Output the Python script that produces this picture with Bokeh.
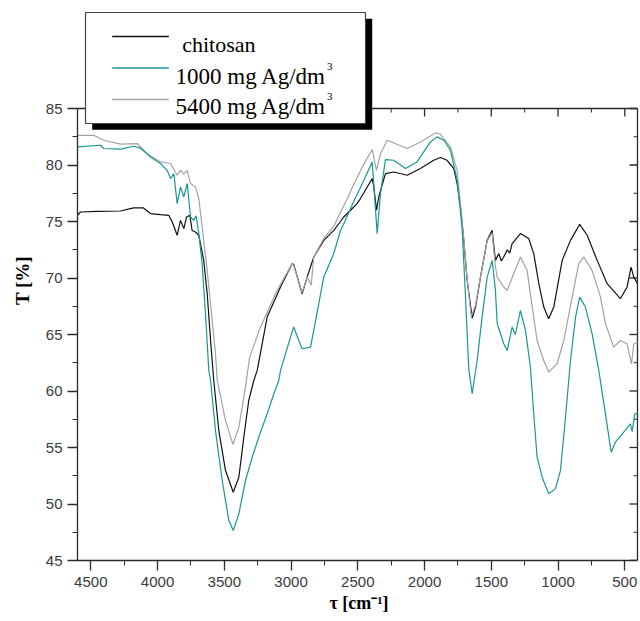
from bokeh.plotting import figure
from bokeh.models import (Range1d, SingleIntervalTicker, BoxAnnotation, Label, PolyAnnotation)
from bokeh.embed import file_html
from bokeh.resources import INLINE

# ---------------- data ----------------
chitosan_wn = [4600, 4577, 4450, 4278, 4180, 4105, 4053, 3978, 3916, 3890, 3853, 3828, 3803,
               3783, 3758, 3741, 3716, 3691, 3654, 3628, 3603, 3579, 3541, 3491, 3433, 3391,
               3354, 3317, 3279, 3254, 3179, 3079, 2992, 2980, 2917, 2879, 2830, 2755, 2680,
               2630, 2605, 2530, 2505, 2480, 2392, 2380, 2360, 2343, 2293, 2231, 2130, 2031,
               1931, 1881, 1831, 1781, 1756, 1731, 1706, 1681, 1643, 1618, 1581, 1531, 1494,
               1469, 1444, 1425, 1407, 1380, 1362, 1344, 1282, 1220, 1182, 1144, 1107, 1070,
               1032, 969, 907, 838, 782, 707, 632, 533, 483, 453, 433, 405]
chitosan_t = [75.55, 75.84, 75.9, 75.93, 76.2, 76.2, 75.7, 75.6, 75.55, 74.96, 73.78, 75.1, 74.37,
              75.4, 75.55, 74.2, 74.07, 73.78, 71.56, 68.6, 64.5, 60.93, 56.5, 52.96, 51.04, 52.37,
              55.9, 59.16, 60.93, 61.8, 66.54, 69.2, 71.27, 71.2, 68.6, 70.1, 71.86, 73.33, 74.22,
              75.0, 75.4, 76.28, 76.6, 77.03, 78.8, 78.06, 76.0, 77.17, 79.24, 79.38, 79.09, 79.69,
              80.42, 80.66, 80.42, 79.69, 78.36, 76.28, 73.33, 69.8, 66.45, 67.43, 70.08, 73.33, 74.22,
              71.56, 72.16, 71.5, 71.86, 72.5, 72.2, 73.04, 73.93, 73.49, 72.16, 69.5, 67.43, 66.4,
              67.43, 71.56, 73.33, 74.75, 73.78, 71.56, 69.5, 68.17, 69.2, 70.97, 70.08, 69.5]

ag1000_wn = [4600, 4427, 4403, 4278, 4178, 4128, 4053, 3978, 3928, 3903, 3878, 3853, 3828, 3803,
             3778, 3753, 3729, 3711, 3691, 3666, 3641, 3616, 3603, 3566, 3516, 3466, 3433, 3391,
             3341, 3291, 3242, 3179, 3129, 3092, 3079, 3004, 2980, 2942, 2917, 2854, 2830, 2755,
             2680, 2630, 2605, 2530, 2480, 2392, 2355, 2330, 2293, 2231, 2143, 2056, 1956, 1906,
             1856, 1806, 1756, 1719, 1694, 1669, 1643, 1606, 1569, 1531, 1494, 1469, 1456, 1431,
             1407, 1381, 1344, 1320, 1282, 1244, 1207, 1182, 1157, 1119, 1070, 1020, 982, 944,
             907, 869, 838, 795, 745, 695, 645, 602, 570, 508, 458, 445, 425, 405]
ag1000_t = [81.6, 81.75, 81.46, 81.4, 81.66, 81.5, 80.71, 80.13, 79.53, 78.8, 79.24, 76.59, 78.06, 77.17,
            78.36, 75.4, 75.1, 75.5, 73.93, 71.27, 66.84, 61.8, 60.93, 56.5, 52.1, 48.53, 47.65, 49.13,
            52.1, 54.14, 55.91, 57.98, 59.76, 60.93, 61.8, 64.77, 65.66, 64.47, 63.74, 63.88, 65.36, 70.08,
            72.16, 74.2, 74.81, 76.8, 78.0, 80.27, 73.93, 77.47, 80.48, 80.42, 79.69, 80.27, 82.04, 82.49,
            82.19, 81.31, 78.65, 74.51, 68.5, 62.0, 59.76, 62.7, 66.54, 70.08, 71.56, 68.9, 65.96, 65.07,
            64.18, 63.59, 65.66, 65.0, 67.13, 65.36, 62.11, 57.98, 54.14, 52.37, 50.9, 51.34, 52.96, 57.68,
            62.7, 66.54, 68.31, 67.43, 65.07, 61.82, 57.98, 54.58, 55.47, 56.36, 57.1, 56.4, 57.98, 58.0]

ag5400_wn = [4600, 4478, 4403, 4278, 4153, 4078, 3978, 3903, 3853, 3828, 3803, 3778, 3753, 3716,
             3691, 3666, 3628, 3591, 3566, 3553, 3491, 3436, 3391, 3349, 3310, 3229, 3104, 2992,
             2980, 2917, 2879, 2849, 2830, 2755, 2680, 2630, 2580, 2530, 2480, 2440, 2392, 2360,
             2330, 2280, 2130, 2031, 1918, 1881, 1806, 1756, 1731, 1706, 1681, 1650, 1618, 1581,
             1531, 1494, 1469, 1456, 1407, 1381, 1332, 1282, 1232, 1182, 1157, 1107, 1070, 1007,
             957, 894, 845, 807, 745, 682, 645, 583, 533, 483, 450, 433, 405]
ag5400_t = [82.63, 82.63, 82.19, 81.84, 81.9, 81.0, 80.27, 80.13, 79.09, 79.53, 79.2, 79.53, 78.36, 78.06,
            77.03, 74.51, 70.68, 66.25, 63.3, 60.93, 57.4, 55.27, 56.8, 59.76, 63.0, 65.66, 68.9, 71.27,
            71.1, 68.7, 70.1, 69.35, 71.86, 73.5, 74.6, 75.8, 77.0, 78.3, 79.5, 80.4, 81.37, 79.53,
            81.0, 82.19, 81.46, 82.04, 82.84, 82.72, 81.6, 79.53, 76.5, 73.4, 69.9, 66.6, 67.6, 70.1,
            73.3, 74.0, 71.0, 70.08, 69.2, 68.9, 70.38, 71.86, 70.68, 66.54, 64.47, 62.7, 61.67, 62.41,
            64.47, 68.31, 71.27, 71.86, 70.68, 68.31, 65.96, 63.88, 64.47, 64.18, 62.41, 64.18, 64.3]

series_names = ["chitosan", "1000 mg Ag/dm", "5400 mg Ag/dm"]
series_colors = ["#111111", "#1a9696", "#a3a3a3"]
x_bounds = (405, 4600)
y_bounds = (45, 85)
x_tick_interval = 500
y_tick_interval = 5

# ---------------- geometry ----------------
W, H = 640, 621
FL, FR, FT, FB = 77, 640, 0, 560      # plot frame in pixels (frame spans whole top)
PX_PER_X = 534 / 4000
PX_PER_Y = 452 / 40
X0 = 4500 + (90.3 - FL) / PX_PER_X
X1 = 500 - (FR - 624.3) / PX_PER_X
Y0 = y_bounds[0]
Y1 = y_bounds[1] + (108 - FT) / PX_PER_Y


def dx(px):
    return X0 + (px - FL) * (X1 - X0) / (FR - FL)


def dy(py):
    return Y1 - (py - FT) * (Y1 - Y0) / (FB - FT)


p = figure(width=W, height=H, output_backend="svg", toolbar_location=None,
           x_range=Range1d(X0, X1), y_range=Range1d(Y0, Y1),
           min_border_left=FL, min_border_right=W - FR, min_border_top=FT,
           min_border_bottom=H - FB)
p.grid.visible = False
p.outline_line_color = None
p.background_fill_color = "white"
p.border_fill_color = "white"

SANS = "Liberation Sans"
SERIF = "Liberation Serif"
AX_COL = "#2a2a2a"

xt = SingleIntervalTicker(interval=x_tick_interval, num_minor_ticks=2)
yt = SingleIntervalTicker(interval=y_tick_interval, num_minor_ticks=2)

for ax in p.xaxis:
    ax.ticker = xt
    ax.bounds = x_bounds
    ax.axis_label = "τ [cm⁻¹]"
    ax.axis_label_text_font = SERIF
    ax.axis_label_text_font_style = "bold"
    ax.axis_label_text_font_size = "18px"
    ax.axis_label_text_color = "black"
    ax.axis_label_standoff = 3
    ax.major_label_standoff = 6
for ax in p.yaxis:
    ax.ticker = yt
    ax.bounds = y_bounds
    ax.axis_label = "T [%]"
    ax.axis_label_text_font = SERIF
    ax.axis_label_text_font_style = "bold"
    ax.axis_label_text_font_size = "19px"
    ax.axis_label_text_color = "black"
    ax.axis_label_standoff = 10
    ax.major_label_standoff = 5

for ax in list(p.xaxis) + list(p.yaxis):
    ax.axis_line_color = AX_COL
    ax.axis_line_width = 1.3
    ax.major_tick_line_color = AX_COL
    ax.minor_tick_line_color = AX_COL
    ax.major_tick_line_width = 1.3
    ax.minor_tick_line_width = 1.0
    ax.major_tick_in = 0
    ax.major_tick_out = 10
    ax.minor_tick_in = 0
    ax.minor_tick_out = 5
    ax.major_label_text_font = SANS
    ax.major_label_text_font_size = "15px"
    ax.major_label_text_color = "#3a3a3a"

# ---------------- top and right frame lines with inward ticks ----------------
p.segment(x0=[x_bounds[1], x_bounds[0]], y0=[y_bounds[1], y_bounds[0]],
          x1=[x_bounds[0], x_bounds[0]], y1=[y_bounds[1], y_bounds[1]],
          line_color=AX_COL, line_width=1.3)
top_major = [v for v in range(x_tick_interval, x_bounds[1] + 1, x_tick_interval)
             if x_bounds[0] <= v <= x_bounds[1]]
top_minor = [v + x_tick_interval // 2 for v in range(0, x_bounds[1], x_tick_interval)
             if x_bounds[0] <= v + x_tick_interval // 2 <= x_bounds[1]]
p.segment(x0=top_major, x1=top_major, y0=[y_bounds[1]] * len(top_major),
          y1=[y_bounds[1] - 8 / PX_PER_Y] * len(top_major), line_color=AX_COL, line_width=1.3)
p.segment(x0=top_minor, x1=top_minor, y0=[y_bounds[1]] * len(top_minor),
          y1=[y_bounds[1] - 4 / PX_PER_Y] * len(top_minor), line_color=AX_COL, line_width=1.0)
r_major = [float(v) for v in range(y_bounds[0], y_bounds[1] + 1, y_tick_interval)]
r_minor = [v + y_tick_interval / 2 for v in r_major[:-1]]
p.segment(x0=[x_bounds[0]] * len(r_major), x1=[x_bounds[0] + 8 / PX_PER_X] * len(r_major),
          y0=r_major, y1=r_major, line_color=AX_COL, line_width=1.3)
p.segment(x0=[x_bounds[0]] * len(r_minor), x1=[x_bounds[0] + 4 / PX_PER_X] * len(r_minor),
          y0=r_minor, y1=r_minor, line_color=AX_COL, line_width=1.0)

# ---------------- spectra ----------------
for wn, t, c in [(chitosan_wn, chitosan_t, series_colors[0]),
                 (ag5400_wn, ag5400_t, series_colors[2]),
                 (ag1000_wn, ag1000_t, series_colors[1])]:
    p.line(wn, t, line_color=c, line_width=1.2)

# ---------------- legend (drawn by hand, with shadow) ----------------
p.add_layout(BoxAnnotation(left=dx(91.7), right=dx(371.7), top=dy(18.3), bottom=dy(129.3),
                           fill_color="black", fill_alpha=1.0, line_color=None))
p.add_layout(BoxAnnotation(left=dx(85), right=dx(365), top=dy(12), bottom=dy(123),
                           fill_color="white", fill_alpha=1.0, line_color="#444444",
                           line_alpha=1.0, line_width=1.2))

rows_y = [36, 67.5, 99]
text_base = [43.5, 76, 106]
text_x = [181.7, 175, 175]
for i, name in enumerate(series_names):
    yy = dy(rows_y[i])
    p.add_layout(PolyAnnotation(xs=[dx(111.7), dx(168.3)], ys=[yy, yy],
                                line_color=series_colors[i], line_alpha=1.0, line_width=1.3,
                                fill_alpha=0))
    p.add_layout(Label(x=dx(text_x[i]), y=dy(text_base[i]), text=name,
                       text_font=SERIF, text_font_size="23px" if i else "22px",
                       text_color="black", text_baseline="alphabetic",
                       text_align="left"))
    if i:
        p.add_layout(Label(x=dx(326.5), y=dy(text_base[i] - 10), text="3",
                           text_font=SERIF, text_font_size="11px",
                           text_color="black", text_baseline="alphabetic",
                           text_align="left"))

open("out.html", "w").write(file_html(p, INLINE))
